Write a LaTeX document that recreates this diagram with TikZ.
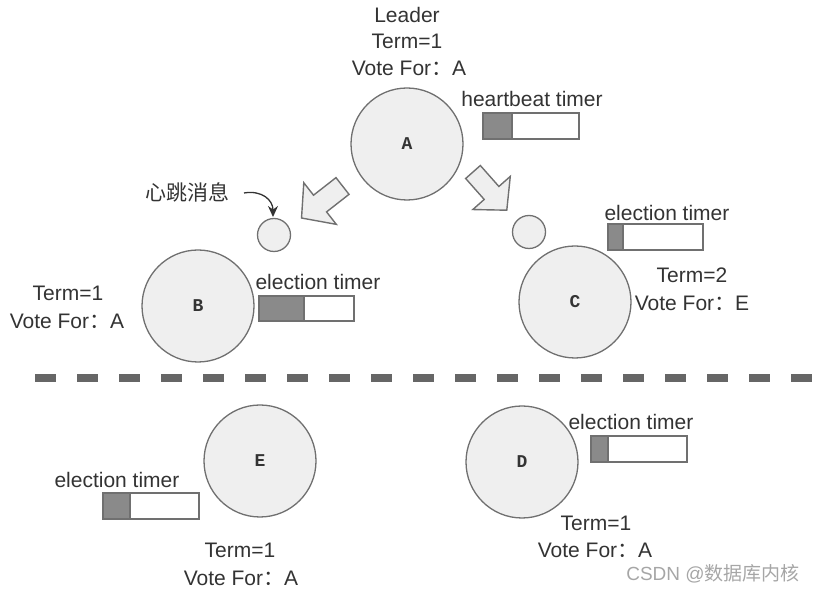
\documentclass[tikz,border=0pt]{standalone}
\usepackage{fontspec}
\setmainfont{Liberation Sans}
\newfontfamily\cjk{Noto Sans CJK SC}
\newfontfamily\monob{Liberation Mono}
\usetikzlibrary{arrows.meta}
\definecolor{txt}{HTML}{333333}
\definecolor{edge}{HTML}{707070}
\definecolor{nodefill}{HTML}{EFEFEF}
\definecolor{bar}{HTML}{8A8A8A}
\definecolor{dashcol}{HTML}{666666}
\tikzset{
  x=1pt, y=-1pt,
  srv/.style={circle, draw=edge, fill=nodefill, line width=1.3pt, minimum size=112pt, inner sep=0pt, font=\monob\bfseries\fontsize{18}{18}\selectfont, text=txt},
  msg/.style={circle, draw=edge, fill=nodefill, line width=1.3pt, minimum size=33pt, inner sep=0pt},
  lbl/.style={font=\fontsize{21}{24}\selectfont, text=txt, inner sep=0pt, align=center},
  tbox/.style={draw=edge, fill=white, line width=1.2pt},
  tfill/.style={fill=bar},
  blockarrow/.style={draw=edge, fill=nodefill, line width=1.4pt, line join=miter},
}
\newcommand{\timerbar}[5]{% x1,y1,x2,y2,xg
  \fill[white] (#1,#2) rectangle (#3,#4);
  \fill[tfill] (#1,#2) rectangle (#5,#4);
  \draw[edge, line width=1.2pt] (#5,#2) -- (#5,#4);
  \draw[tbox, fill=none] (#1,#2) rectangle (#3,#4);
}
\begin{document}
\begin{tikzpicture}
\useasboundingbox (0,0) rectangle (815,593);
% servers
\node[srv] (A) at (407,144) {A};
\node[srv] (B) at (198,306) {B};
\node[srv] (C) at (575,302) {C};
\node[srv] (E) at (260,461) {E};
\node[srv] (D) at (522,462) {D};
% heartbeat messages
\node[msg] (m1) at (274,235) {};
\node[msg] (m2) at (529,232) {};
% block arrows
\begin{scope}[shift={(342.5,186)}, rotate=218]
  \draw[blockarrow] (0,-10.6) -- (28.5,-10.6) -- (28.5,-26.4) -- (52,0) -- (28.5,26.4) -- (28.5,10.6) -- (0,10.6) -- cycle;
\end{scope}
\begin{scope}[shift={(473,172)}, rotate=-48.5]
  \draw[blockarrow] (0,-9.8) -- (28,-9.8) -- (28,-25) -- (51,0) -- (28,25) -- (28,9.8) -- (0,9.8) -- cycle;
\end{scope}
% leader labels
\node[lbl] (la1) at (407,15) {Leader};
\node[lbl] (la2) at (407,41) {Term=1};
\node[lbl] (la3) at (409,68) {Vote For{\cjk ：}A};
% heartbeat timer
\node[lbl] (ht) at (532,99) {heartbeat timer};
\timerbar{483}{113}{579}{139}{512}
% B
\node[lbl] (lb1) at (68,293) {Term=1};
\node[lbl] (lb2) at (67,321) {Vote For{\cjk ：}A};
\node[lbl] (etb) at (318,282) {election timer};
\timerbar{259}{296}{354}{321}{304}
% C
\node[lbl] (etc) at (667,213) {election timer};
\timerbar{608}{224}{703}{250}{623}
\node[lbl] (lc1) at (692,275) {Term=2};
\node[lbl] (lc2) at (692,303) {Vote For{\cjk ：}E};
% E
\node[lbl] (ete) at (117,480) {election timer};
\timerbar{103}{493}{199}{519}{130}
\node[lbl] (le1) at (240,550) {Term=1};
\node[lbl] (le2) at (241,578) {Vote For{\cjk ：}A};
% D
\node[lbl] (etd) at (631,422) {election timer};
\timerbar{591}{436}{687}{462}{608}
\node[lbl] (ld1) at (596,523) {Term=1};
\node[lbl] (ld2) at (595,550) {Vote For{\cjk ：}A};
% heartbeat message label
\node[lbl, font=\cjk\fontsize{21}{24}\selectfont] (hb) at (187,192) {心跳消息};
\coordinate (hbstart) at (244,193);
\coordinate (hbend) at (273,217);
\draw[txt, line width=1.3pt, -{Stealth[length=11pt,width=10pt]}] (hbstart) .. controls (262,190) and (273,200) .. (hbend);
% divider
\coordinate (d1) at (35,378);
\coordinate (d2) at (815,378);
\draw[dashcol, line width=8pt, dash pattern=on 21pt off 21pt] (d1) -- (d2);
% watermark
\node[lbl, text=gray!70, font=\fontsize{19}{22}\selectfont] (wm) at (713,574) {CSDN @{\cjk 数据库内核}};
\end{tikzpicture}
\end{document}
